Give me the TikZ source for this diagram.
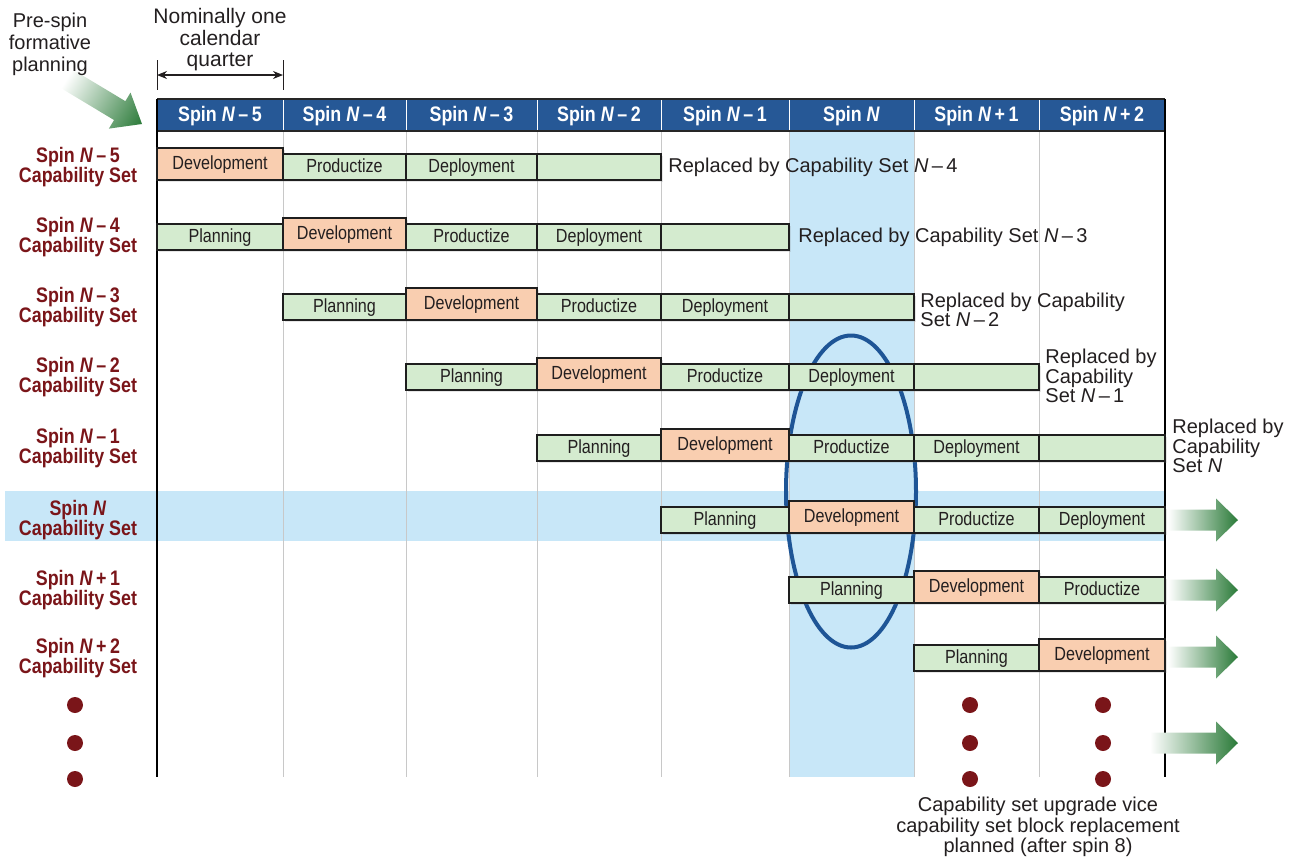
\documentclass[tikz,border=0pt]{standalone}
\usepackage{fontspec}
\setmainfont{Liberation Sans}
\newfontfamily\cond{Liberation Sans}[FakeStretch=0.85]
\usetikzlibrary{shadows,arrows.meta}
\definecolor{hdrblue}{HTML}{265896}
\definecolor{hilite}{HTML}{C8E7F8}
\definecolor{boxgreen}{HTML}{D4EBCF}
\definecolor{boxorange}{HTML}{F9CEB0}
\definecolor{boxline}{HTML}{1E1E1E}
\definecolor{darkred}{HTML}{7A1519}
\definecolor{arrowgreen}{HTML}{2A7A38}
\definecolor{ellblue}{HTML}{1E5596}
\definecolor{txtgray}{HTML}{231F20}
\definecolor{gridgray}{HTML}{C8C8C8}
\begin{document}
\begin{tikzpicture}[x=0.5pt,y=-0.5pt,
  boxbase/.style={draw=boxline, line width=0.75pt, inner sep=0pt, outer sep=0pt,
    font=\cond\fontsize{9.5}{10}\selectfont, text=txtgray,
    text height=7pt, text depth=2pt,
    drop shadow={shadow xshift=1.2pt, shadow yshift=-1.2pt, opacity=0.2}},
  gbox/.style={boxbase, fill=boxgreen},
  obox/.style={boxbase, fill=boxorange},
  hdr/.style={font=\cond\bfseries\fontsize{10.5}{10.5}\selectfont, text=white, inner sep=0pt},
  rowlbl/.style={font=\cond\bfseries\fontsize{10.5}{10}\selectfont, text=darkred, align=center, inner sep=0pt},
  repl/.style={font=\fontsize{10}{9.7}\selectfont, text=txtgray, align=left, anchor=west, inner sep=0pt},
  note/.style={font=\fontsize{10}{10.25}\selectfont, text=txtgray, align=center, inner sep=0pt},
  fatarrow/.style={left color=white, right color=arrowgreen}
]
\useasboundingbox (0,0) rectangle (1291,858);
\def\colx{{157,283,406,537,661,789,914,1039,1165}}
\def\rowb{{0,180,250,320,390,461,533,603,671}}

% highlights
\fill[hilite] (789,131) rectangle (914,777);
\fill[hilite] (5,491) rectangle (1165,541);

% grid lines
\foreach \x in {283,406,537,661,789,914,1039}
  \draw[gridgray, line width=0.5pt] (\x,131) -- (\x,777);

% ellipse
\draw[ellblue, line width=2pt] (851,491.5) ellipse [x radius=32.5pt, y radius=78pt];

% header
\fill[hdrblue] (157,99) rectangle (1165,131);
\draw[black!85, line width=0.7pt] (157,99) -- (1165,99);
\draw[black!85, line width=0.6pt] (157,131) -- (1165,131);
\foreach \x in {283,406,537,661,789,914,1039}
  \draw[white, line width=0.5pt] (\x,100) -- (\x,130);
\foreach \c/\t in {1/{Spin \textit{N}\,–\,5},2/{Spin \textit{N}\,–\,4},3/{Spin \textit{N}\,–\,3},4/{Spin \textit{N}\,–\,2},5/{Spin \textit{N}\,–\,1},6/{Spin \textit{N}},7/{Spin \textit{N}\,+\,1},8/{Spin \textit{N}\,+\,2}}{
  \pgfmathsetmacro\xa{\colx[\c-1]}
  \pgfmathsetmacro\xb{\colx[\c]}
  \node[hdr] (h\c) at ({(\xa+\xb)/2},116) {\t};
}

% borders
\draw[black, line width=1pt] (157,99) -- (157,777);
\draw[black, line width=0.8pt] (1165,99) -- (1165,777);

% boxes
\foreach \r/\c/\h/\st/\s in {
  1/1/32/obox/Development, 1/2/26/gbox/Productize, 1/3/26/gbox/Deployment, 1/4/26/gbox/{},
  2/1/26/gbox/Planning, 2/2/32/obox/Development, 2/3/26/gbox/Productize, 2/4/26/gbox/Deployment, 2/5/26/gbox/{},
  3/2/26/gbox/Planning, 3/3/32/obox/Development, 3/4/26/gbox/Productize, 3/5/26/gbox/Deployment, 3/6/26/gbox/{},
  4/3/26/gbox/Planning, 4/4/32/obox/Development, 4/5/26/gbox/Productize, 4/6/26/gbox/Deployment, 4/7/26/gbox/{},
  5/4/26/gbox/Planning, 5/5/32/obox/Development, 5/6/26/gbox/Productize, 5/7/26/gbox/Deployment, 5/8/26/gbox/{},
  6/5/26/gbox/Planning, 6/6/32/obox/Development, 6/7/26/gbox/Productize, 6/8/26/gbox/Deployment,
  7/6/26/gbox/Planning, 7/7/32/obox/Development, 7/8/26/gbox/Productize,
  8/7/26/gbox/Planning, 8/8/32/obox/Development}{
  \pgfmathsetmacro\xa{\colx[\c-1]}
  \pgfmathsetmacro\xb{\colx[\c]}
  \pgfmathsetmacro\yb{\rowb[\r]}
  \pgfmathsetmacro\w{(\xb-\xa)*0.5}
  \pgfmathsetmacro\hh{\h*0.5}
  \node[\st, minimum width=\w pt, minimum height=\hh pt] (b\r-\c) at ({(\xa+\xb)/2},{\yb-\h/2}) {\s};
}

% row labels
\foreach \r/\t in {1/{Spin \textit{N}\,–\,5},2/{Spin \textit{N}\,–\,4},3/{Spin \textit{N}\,–\,3},4/{Spin \textit{N}\,–\,2},5/{Spin \textit{N}\,–\,1},6/{Spin \textit{N}},7/{Spin \textit{N}\,+\,1},8/{Spin \textit{N}\,+\,2}}{
  \pgfmathsetmacro\yb{\rowb[\r]}
  \node[rowlbl] (l\r) at (78,\yb-13) {\t\\Capability Set};
}

% replaced texts
\node[repl] (r1) at (668,167) {Replaced by Capability Set \textit{N}\,–\,4};
\node[repl] (r2) at (798,237) {Replaced by Capability Set \textit{N}\,–\,3};
\node[repl] (r3) at (920,310) {Replaced by Capability\\Set \textit{N}\,–\,2};
\node[repl] (r4) at (1045,376) {Replaced by\\Capability\\Set \textit{N}\,–\,1};
\node[repl] (r5) at (1172,446) {Replaced by\\Capability\\Set \textit{N}};

% right arrows
\foreach \xs/\yc in {1168/520, 1168/590, 1168/657, 1150/743}{
  \shade[fatarrow] (\xs,\yc-10.5) -- (1216,\yc-10.5) -- (1216,\yc-21.5) -- (1238,\yc)
    -- (1216,\yc+21.5) -- (1216,\yc+10.5) -- (\xs,\yc+10.5) -- cycle;
}

% pre-spin arrow
\begin{scope}[transform canvas={shift={(142,124)}, rotate=-31}]
  \shade[fatarrow] (-44pt,-5.5pt) -- (-13pt,-5.5pt) -- (-13pt,-10.5pt) -- (0pt,0pt)
    -- (-13pt,10.5pt) -- (-13pt,5.5pt) -- (-44pt,5.5pt) -- cycle;
\end{scope}

% dots
\foreach \y in {705,743,779}{
  \foreach \x in {75,970,1103}
    \fill[darkred] (\x,\y) circle (4pt);
}

% top texts
\node[note, font=\fontsize{10}{11}\selectfont] (pre) at (50,44) {Pre-spin\\formative\\planning};
\node[note, font=\fontsize{10.5}{10.75}\selectfont] (nom) at (220,40) {Nominally one\\calendar\\quarter};
\coordinate (dl) at (157,75);
\coordinate (dr) at (283,75);
\draw[txtgray, line width=0.5pt] (157,60) -- (157,90);
\draw[txtgray, line width=0.5pt] (283,60) -- (283,90);
\draw[txtgray, line width=0.6pt, {Stealth[length=5pt,width=4pt]}-{Stealth[length=5pt,width=4pt]}] (dl) -- (dr);

% bottom note
\node[note] (bot) at (1038,827) {Capability set upgrade vice\\capability set block replacement\\planned (after spin 8)};
\end{tikzpicture}
\end{document}
